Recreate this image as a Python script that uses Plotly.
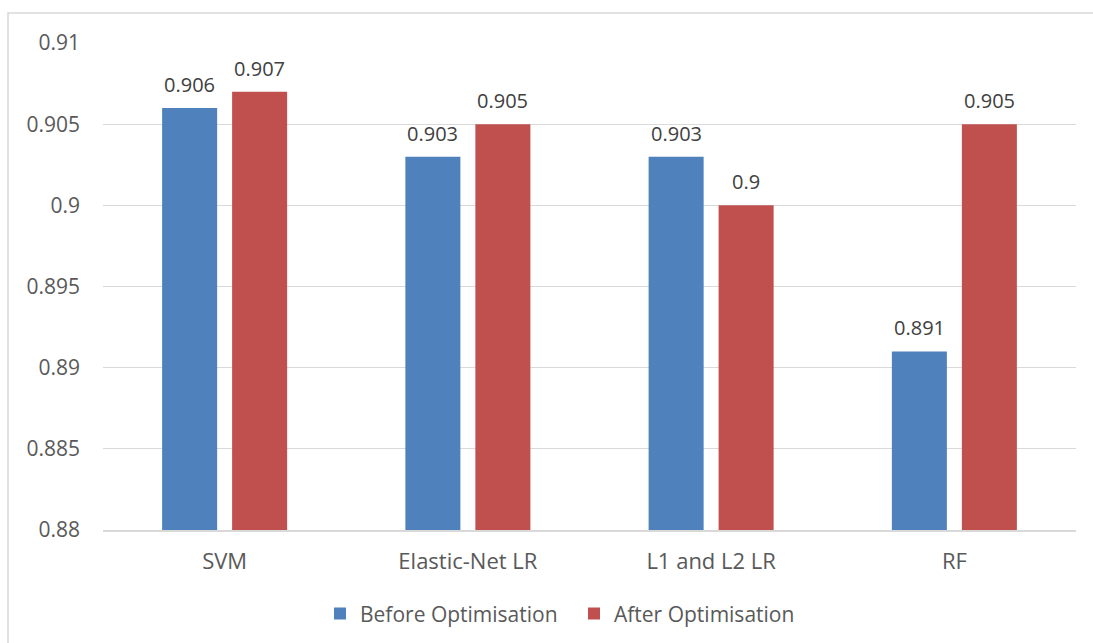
import plotly.graph_objects as go

# Model accuracy before and after hyper-parameter optimisation
models = ["SVM", "Elastic-Net LR", "L1 and L2 LR", "RF"]
before_opt = [0.906, 0.903, 0.903, 0.891]
after_opt = [0.907, 0.905, 0.900, 0.905]
y_ticks = [0.88, 0.885, 0.89, 0.895, 0.9, 0.905, 0.91]
y_tick_text = ["0.88", "0.885", "0.89", "0.895", "0.9", "0.905", "0.91"]

BLUE = "#4F81BD"
RED = "#C0504D"
FONT = "Open Sans"

fig = go.Figure()
fig.add_trace(go.Bar(x=models, y=before_opt, name="Before Optimisation",
                     marker=dict(color=BLUE, line=dict(width=0))))
fig.add_trace(go.Bar(x=models, y=after_opt, name="After Optimisation",
                     marker=dict(color=RED, line=dict(width=0))))

# value labels above each bar
annotations = []
for series, shift in ((before_opt, -35), (after_opt, 35)):
    for m, v in zip(models, series):
        annotations.append(dict(
            x=m, y=v, xref="x", yref="y", text=f"{v:g}", showarrow=False,
            xshift=shift, yanchor="bottom", yshift=8,
            font=dict(family=FONT, size=20, color="#404040")))

W, H = 1093, 643
ml, mr, mt, mb = 103, 17, 43, 113
pw, ph = W - ml - mr, H - mt - mb

fig.update_layout(
    width=W, height=H,
    margin=dict(l=ml, r=mr, t=mt, b=mb, autoexpand=False),
    paper_bgcolor="white", plot_bgcolor="white",
    barmode="group", bargap=0.4245, bargroupgap=0.214,
    font=dict(family=FONT, size=20, color="#595959"),
    showlegend=True,
    legend=dict(orientation="h", x=(574 - ml) / pw, xanchor="center",
                y=-0.172, yanchor="middle",
                font=dict(family=FONT, size=21, color="#595959"),
                itemwidth=30, entrywidth=209, entrywidthmode="pixels",
                traceorder="normal"),
    annotations=annotations,
    shapes=[dict(type="rect", xref="paper", yref="paper",
                 x0=(8 - ml) / pw, x1=(W + 5 - ml) / pw,
                 y0=-(H + 5 - mt - ph) / ph, y1=(H - 13 - mb) / ph,
                 line=dict(color="#d9d9d9", width=1.5), fillcolor="rgba(0,0,0,0)",
                 layer="below")],
)
fig.update_xaxes(showgrid=False, showline=True, linecolor="#d9d9d9", linewidth=1.5,
                 ticks="", ticklabelstandoff=11, automargin=False,
                 tickfont=dict(family=FONT, size=22, color="#595959"))
fig.update_yaxes(range=[0.88, 0.91], tickvals=y_ticks, ticktext=y_tick_text,
                 showgrid=True, gridcolor="#d9d9d9", gridwidth=1.2, automargin=False,
                 zeroline=False, showline=False, ticks="", ticklabelstandoff=22,
                 tickfont=dict(family=FONT, size=21, color="#595959"))

fig.write_html("out.html")
